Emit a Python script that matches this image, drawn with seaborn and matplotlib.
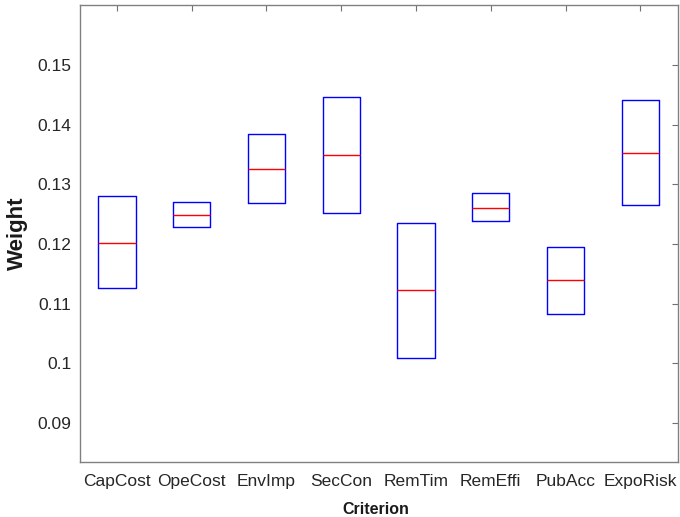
import matplotlib
matplotlib.use("Agg")
import matplotlib.pyplot as plt
import seaborn as sns
import pandas as pd

categories = ["CapCost", "OpeCost", "EnvImp", "SecCon", "RemTim", "RemEffi", "PubAcc", "ExpoRisk"]
q1 = [0.1126, 0.1229, 0.1268, 0.1252, 0.1008, 0.1238, 0.1082, 0.1266]
median = [0.1202, 0.1249, 0.1326, 0.1349, 0.1122, 0.1261, 0.1139, 0.1353]
q3 = [0.1280, 0.1271, 0.1385, 0.1447, 0.1235, 0.1286, 0.1195, 0.1442]
yticks = [0.09, 0.1, 0.11, 0.12, 0.13, 0.14, 0.15]
ytick_labels = ["0.09", "0.1", "0.11", "0.12", "0.13", "0.14", "0.15"]

rows = []
for c, a, m, b in zip(categories, q1, median, q3):
    for v in (a, a, m, b, b):
        rows.append({"Criterion": c, "Weight": v})
df = pd.DataFrame(rows)

sns.set_style("white")
plt.rcParams["font.family"] = ["Liberation Sans", "DejaVu Sans"]

fig = plt.figure(figsize=(6.8, 5.17), dpi=100)
ax = fig.add_axes([0.117, 0.107, 0.8796, 0.884])

sns.boxplot(data=df, x="Criterion", y="Weight", order=categories, ax=ax,
            fill=False, color="blue", linecolor="blue", width=0.5, whis=0,
            showcaps=False, showfliers=False,
            boxprops={"linewidth": 1.0, "color": "blue"},
            medianprops={"color": "red", "linewidth": 1.0},
            whiskerprops={"linewidth": 0})

ax.set_xlim(-0.5, 7.5)
ax.set_ylim(0.0835, 0.1601)
ax.set_yticks(yticks)
ax.set_yticklabels(ytick_labels)
ax.tick_params(axis="both", direction="in", top=True, right=True, length=4,
               width=0.8, color="#707070", labelsize=12.5, labelcolor="#262626")
ax.tick_params(axis="y", pad=6)
ax.tick_params(axis="x", pad=9)
for s in ax.spines.values():
    s.set_visible(True)
    s.set_color("#808080")
    s.set_linewidth(1.0)
ax.set_xlabel("Criterion", fontsize=11.5, fontweight="bold", color="#1a1a1a")
ax.set_ylabel("Weight", fontsize=16, fontweight="bold", color="#1a1a1a")
ax.xaxis.set_label_coords(0.496, -0.088)
ax.yaxis.set_label_coords(-0.087, 0.5)

fig.savefig("out.png", dpi=100)
